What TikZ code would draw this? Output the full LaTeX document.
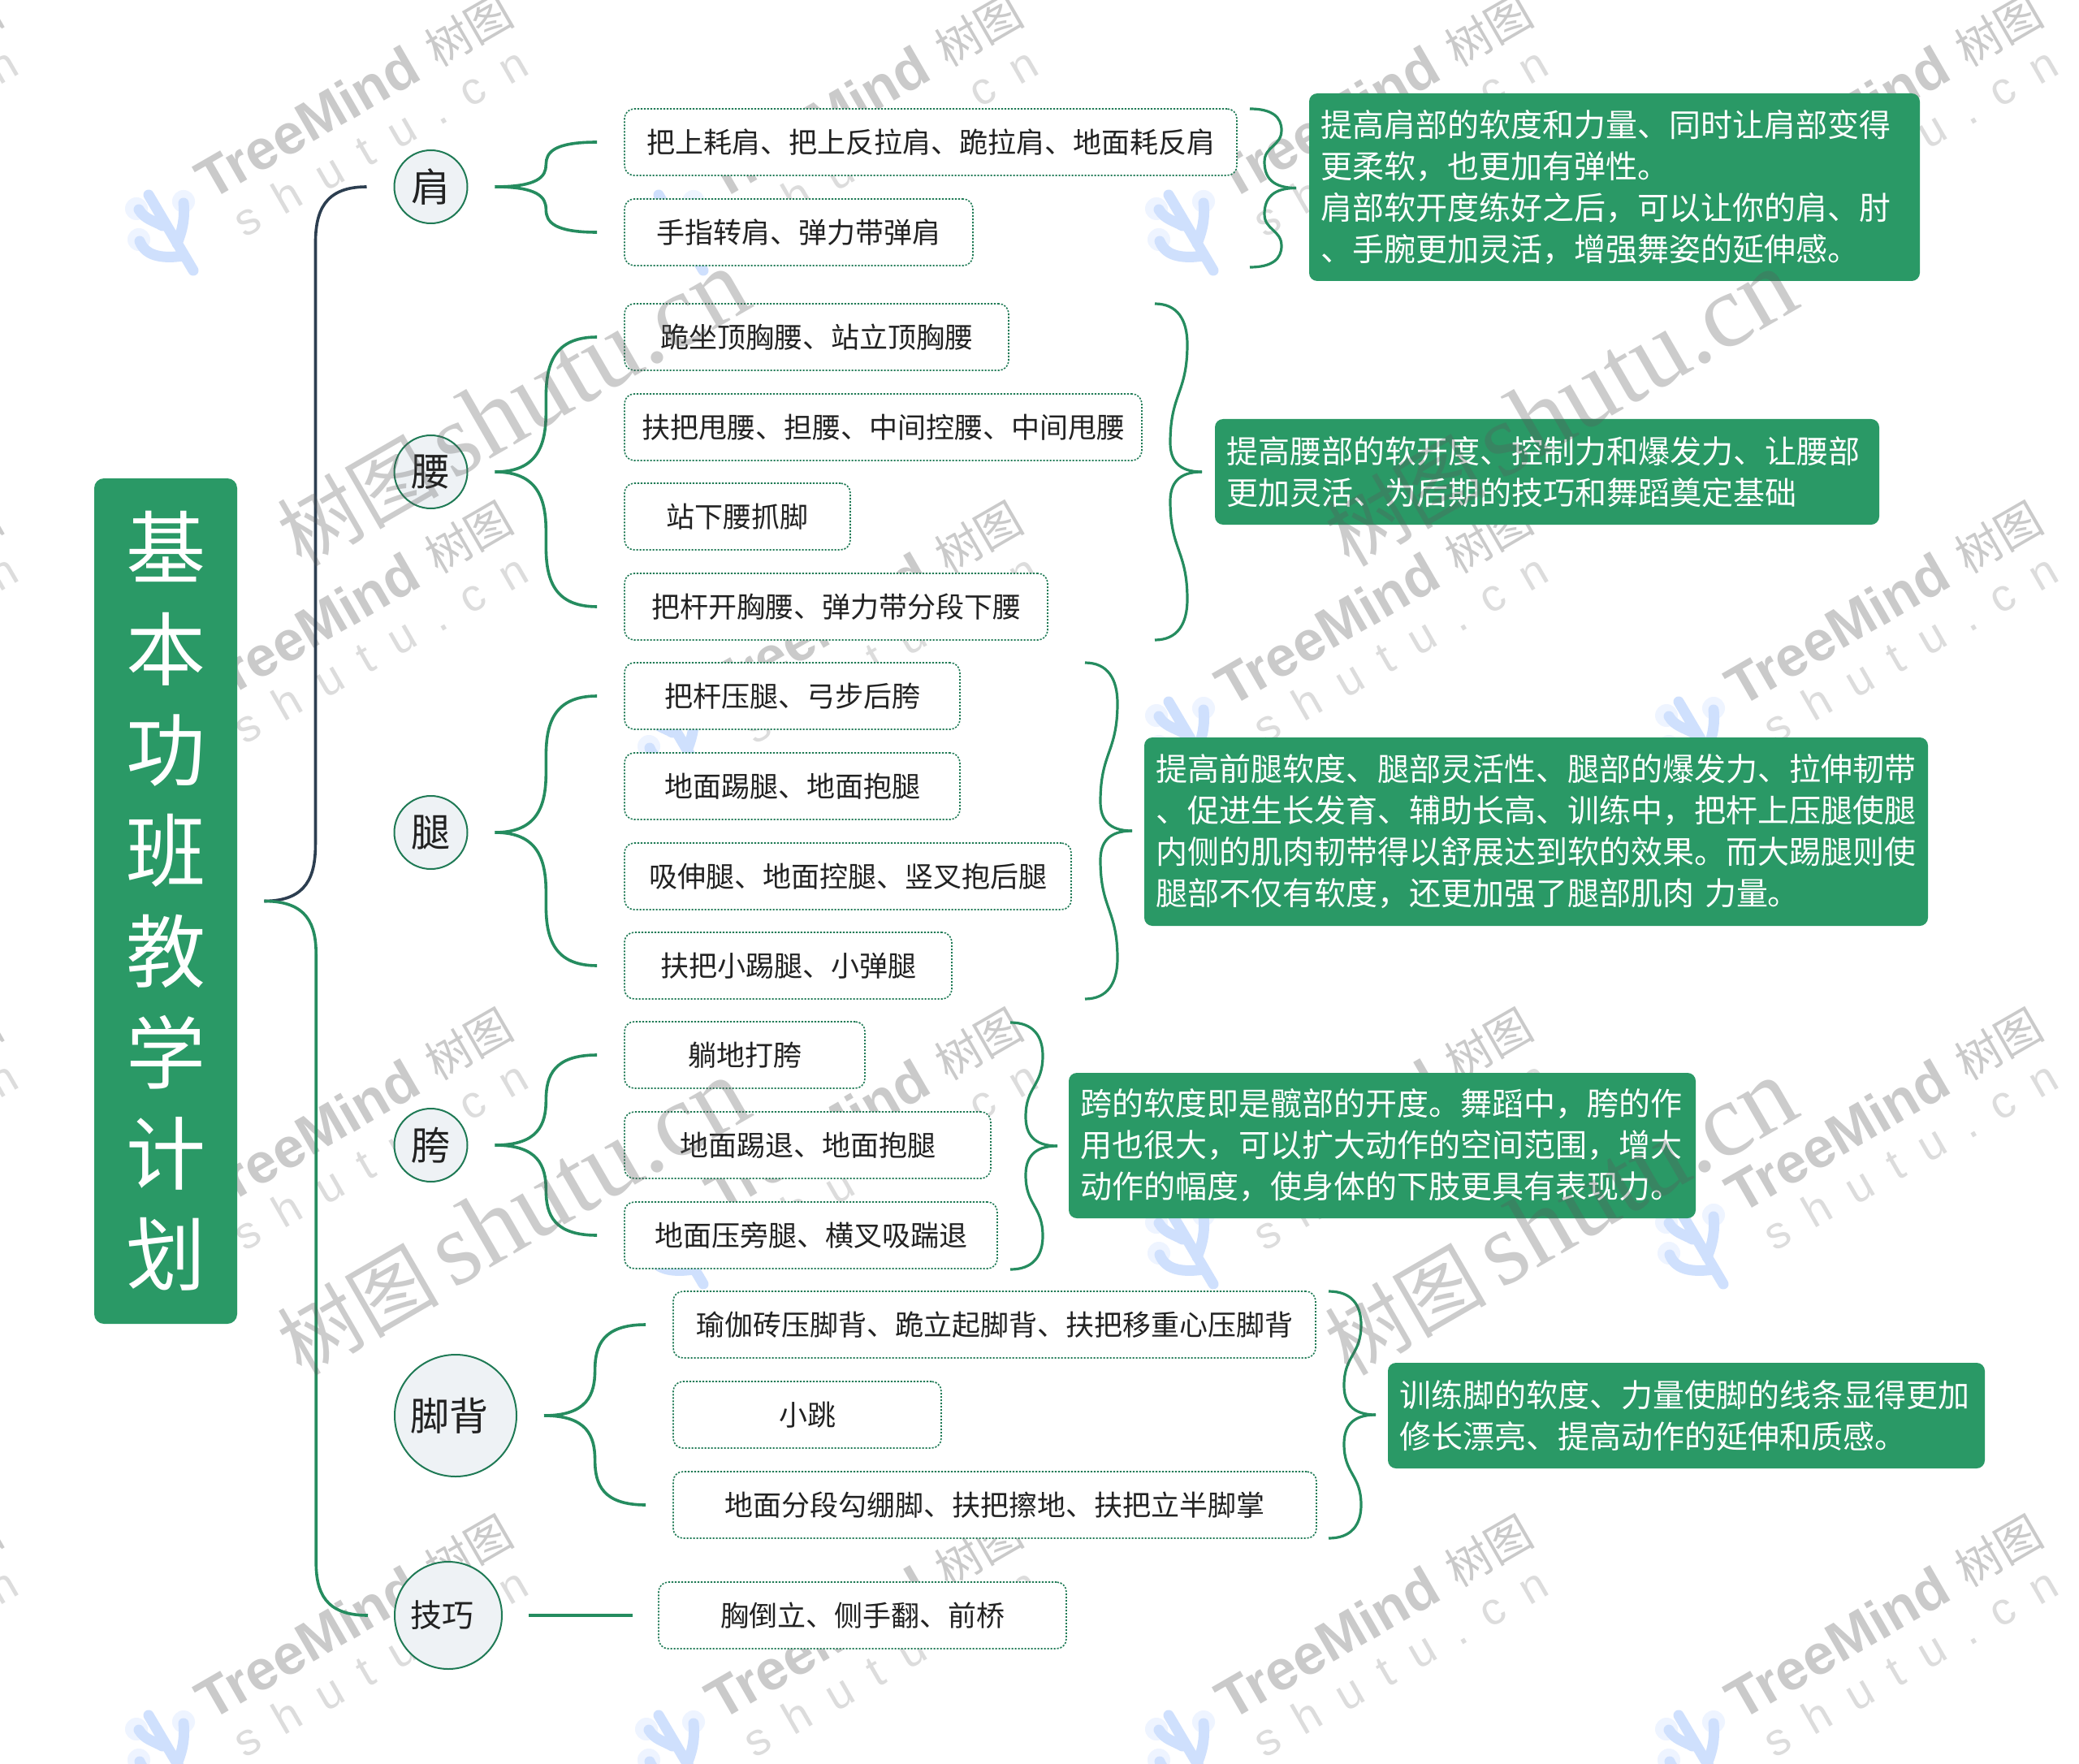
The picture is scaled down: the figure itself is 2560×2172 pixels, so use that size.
\documentclass[tikz,border=0pt]{standalone}
\usepackage{fontspec}
\usetikzlibrary{calc,shapes.geometric}
\setmainfont{Noto Sans CJK SC}
\newfontfamily\wmlatin{Liberation Sans}
\newfontfamily\wmspaced[LetterSpace=50]{Liberation Sans}
\newfontfamily\wmserif{Liberation Serif}
\definecolor{mmgreen}{HTML}{2A9966}
\definecolor{mmline}{HTML}{258C5F}
\definecolor{mmdots}{HTML}{1F7A55}
\definecolor{mmdark}{HTML}{2C3E50}
\definecolor{mmcircle}{HTML}{EEF2F5}
\definecolor{mmtext}{HTML}{222222}
\definecolor{wmmain}{HTML}{CACACA}
\definecolor{wmsoft}{HTML}{DCDCDC}
\definecolor{wmblue}{HTML}{CFE0FD}
\definecolor{wmhalo}{HTML}{EEF4FF}
\definecolor{wmover}{gray}{.35}
\tikzset{
  rootbox/.style={fill=mmgreen,rounded corners=6pt,inner sep=0pt,text=white,align=center,
    font=\fontsize{49}{62.15}\selectfont},
  branch/.style={circle,draw=mmdots,line width=1pt,fill=mmcircle,inner sep=0pt,text=mmtext,
    font=\fontsize{24}{28}\selectfont},
  leaf/.style={draw=mmdots,line width=.8pt,dash pattern=on 1.1pt off .9pt,fill=white,rounded corners=6pt,
    inner sep=0pt,minimum height=41pt,text=mmtext,font=\fontsize{17.5}{22}\selectfont},
  notebox/.style={fill=mmgreen,rounded corners=5pt,inner xsep=7pt,inner ysep=0pt,text=white,align=left,
    font=\fontsize{19.5}{25.5}\selectfont},
  link/.style={draw=mmline,line width=1.8pt},
  darklink/.style={draw=mmdark,line width=1.8pt},
  bracket/.style={draw=mmline,line width=1.6pt},
  curly/.style={to path={let \p1=(\tikztostart),\p2=(\tikztotarget),\n1={(\x1+\x2)/2},
      \n2={max(-#1,min(#1,(\y2-\y1)/2))} in
      (\p1) .. controls ({\n1-5pt},\y1) and (\n1,{\y1+0.45*\n2}) .. (\n1,{\y1+\n2})
      -- (\n1,{\y2-\n2})
      .. controls (\n1,{\y2-0.45*\n2}) and ({\n1+5pt},\y2) .. (\p2)}},
  curly/.default=37,
  halfbrace/.style={to path={let \p1=(\tikztostart),\p2=(\tikztotarget),
      \n1={\x2-9pt},\n2={\x2-19.5pt},
      \n3={max(-25,min(25,0.27*(\y2-\y1)))},\n4={max(-18,min(18,0.33*(\y2-\y1)))},
      \n5={(\y2-\y1-\n3-\n4)/2} in
      (\p1) .. controls ({\x1+14pt},\y1) and (\n1,{\y1+0.4*\n3}) .. (\n1,{\y1+\n3})
      .. controls (\n1,{\y1+\n3+\n5}) and (\n2,{\y2-\n4-\n5}) .. (\n2,{\y2-\n4})
      .. controls (\n2,{\y2-0.4*\n4}) and ({\n2+5pt},\y2) .. (\p2)}}
}
\newcommand{\leafnode}[5]{\node[leaf,minimum width={(#3-#2)*0.5pt}] (#1) at ({(#2+#3)/2},#4) {#5};}
\newcommand{\notenode}[6]{\node[notebox,minimum width={(#3-#2)*0.5pt},minimum height={(#5-#4)*0.5pt},
   text width={(#3-#2)*0.5pt-14pt}] (#1) at ({(#2+#3)/2},{(#4+#5)/2}) {#6};}
\newcommand{\linkup}[2]{%
  \coordinate (#1-out-#2) at ([xshift=16.5pt]#1.east);
  \coordinate (#1-in-#2) at ([xshift=-16.5pt]#2.west);
  \draw[link] (#1-out-#2) to[curly] (#1-in-#2);}
\newcommand{\bracegroup}[5]{% name, x start, y top, y bottom, tip x
  \coordinate (#1-top) at (#2,#3);
  \coordinate (#1-bot) at (#2,#4);
  \coordinate (#1-tip) at (#5,{(#3+#4)/2});
  \draw[bracket] (#1-top) to[halfbrace] (#1-tip);
  \draw[bracket] (#1-bot) to[halfbrace] (#1-tip);}
\begin{document}
\begin{tikzpicture}[x=0.5pt,y=-0.5pt]
\useasboundingbox (0,0) rectangle (2560,2172);
\clip (0,0) rectangle (2560,2172);
\fill[white] (0,0) rectangle (2560,2172);
% tiled watermark, behind the map
\foreach \dx in {-628,0,628,1256,1884} {
 \foreach \dy in {0,624,1248,1872} {
  \begin{scope}[shift={(\dx,\dy)}]
   \fill[wmhalo] (168,257) circle (14) (226,248) circle (14) (171,295) circle (14);
   \draw[wmblue,line width=6.5pt,line cap=round,line join=round]
     (183,240) -- (238,333)
     (171,258) .. controls (178,270) and (190,272) .. (200,278)
     (226,250) .. controls (228,270) and (224,285) .. (218,300)
     (172,297) .. controls (180,318) and (205,318) .. (226,315);
   \node[rotate=30,anchor=base west,inner sep=0pt,text=wmmain,font=\wmlatin\bfseries\fontsize{34.5}{36}\selectfont] (wma\dx\dy) at (259,248) {TreeMind};
   \node[rotate=30,inner sep=0pt,text=wmmain,font=\fontsize{28}{29}\selectfont] (wmb\dx\dy) at (577,37) {树图};
   \node[rotate=30,anchor=base west,inner sep=0pt,text=wmsoft,font=\wmspaced\fontsize{28}{28}\selectfont] (wmc\dx\dy) at (301,294) {shutu.cn};
  \end{scope}
 }
}
% nodes
\node[rootbox,minimum width=88pt,minimum height=520.5pt] (root) at (204,1109.5) {基\\本\\功\\班\\教\\学\\计\\划};
\node[branch,minimum size=45pt] (sh) at (530.5,230) {肩};
\node[branch,minimum size=45pt] (ya) at (530.5,581) {腰};
\node[branch,minimum size=45pt] (tu) at (530.5,1025) {腿};
\node[branch,minimum size=45pt] (ku) at (530.5,1410) {胯};
\node[branch,minimum size=75pt] (jb) at (561,1743) {脚背\kern8pt};
\node[branch,minimum size=66pt,font=\fontsize{19.5}{24}\selectfont] (jq) at (552,1989) {技巧\kern8pt};
\leafnode{l1}{769}{1523}{175}{把上耗肩、把上反拉肩、跪拉肩、地面耗反肩}
\leafnode{l2}{769}{1198}{286}{手指转肩、弹力带弹肩}
\leafnode{l3}{769}{1242}{415}{跪坐顶胸腰、站立顶胸腰}
\leafnode{l4}{769}{1406}{526}{扶把甩腰、担腰、中间控腰、中间甩腰}
\leafnode{l5}{769}{1047}{636}{站下腰抓脚}
\leafnode{l6}{769}{1290}{747}{把杆开胸腰、弹力带分段下腰}
\leafnode{l7}{769}{1182}{857}{把杆压腿、弓步后胯}
\leafnode{l8}{769}{1182}{968}{地面踢腿、地面抱腿}
\leafnode{l9}{769}{1319}{1079}{吸伸腿、地面控腿、竖叉抱后腿}
\leafnode{l10}{769}{1172}{1189}{扶把小踢腿、小弹腿}
\leafnode{l11}{769}{1065}{1299}{躺地打胯}
\leafnode{l12}{769}{1220}{1410}{地面踢退、地面抱腿}
\leafnode{l13}{769}{1228}{1521}{地面压旁腿、横叉吸踹退}
\leafnode{l14}{829}{1620}{1631}{瑜伽砖压脚背、跪立起脚背、扶把移重心压脚背}
\leafnode{l15}{829}{1159}{1742}{小跳}
\leafnode{l16}{829}{1621}{1853}{地面分段勾绷脚、扶把擦地、扶把立半脚掌}
\leafnode{l17}{811}{1313}{1989}{胸倒立、侧手翻、前桥}
\notenode{n1}{1612}{2364}{115}{346}{提高肩部的软度和力量、同时让肩部变得\\更柔软，也更加有弹性。\\肩部软开度练好之后，可以让你的肩、肘\\、手腕更加灵活，增强舞姿的延伸感。}
\notenode{n2}{1496}{2314}{516}{646}{提高腰部的软开度、控制力和爆发力、让腰部\\更加灵活、为后期的技巧和舞蹈奠定基础}
\notenode{n3}{1409}{2374}{908}{1140}{提高前腿软度、腿部灵活性、腿部的爆发力、拉伸韧带\\、促进生长发育、辅助长高、训练中，把杆上压腿使腿\\内侧的肌肉韧带得以舒展达到软的效果。而大踢腿则使\\腿部不仅有软度，还更加强了腿部肌肉 力量。}
\notenode{n4}{1316}{2088}{1321}{1500}{跨的软度即是髋部的开度。舞蹈中，胯的作\\用也很大，可以扩大动作的空间范围，增大\\动作的幅度，使身体的下肢更具有表现力。}
\notenode{n5}{1709}{2444}{1678}{1808}{训练脚的软度、力量使脚的线条显得更加\\修长漂亮、提高动作的延伸和质感。}
% spine
\coordinate (root-out) at ([xshift=16.5pt]root.east);
\coordinate (sh-in) at ([xshift=-16.5pt]sh.west);
\coordinate (jq-in) at ([xshift=-16pt]jq.west);
\draw[darklink] (root-out) to[curly=35] (sh-in);
\draw[link] (root-out) to[curly=33] (jq-in);
% branch links
\linkup{sh}{l1}\linkup{sh}{l2}
\linkup{ya}{l3}\linkup{ya}{l6}
\linkup{tu}{l7}\linkup{tu}{l10}
\linkup{ku}{l11}\linkup{ku}{l13}
\linkup{jb}{l14}\linkup{jb}{l16}
\coordinate (jq-out) at ([xshift=16pt]jq.east);
\coordinate (l17-in) at ([xshift=-15.5pt]l17.west);
\draw[link] (jq-out) -- (l17-in);
% summary braces
\bracegroup{b1}{1539}{134}{329}{1596}
\bracegroup{b2}{1422}{374}{788}{1480}
\bracegroup{b3}{1336}{816}{1230}{1394}
\bracegroup{b4}{1244}{1259}{1563}{1302}
\bracegroup{b5}{1636}{1590}{1894}{1694}
% large watermark, over the map
\foreach \wx in {0,1290} {
 \foreach \wy in {0,996} {
  \node[rotate=30,anchor=base west,inner sep=0pt,text=wmover,text opacity=.3,font=\fontsize{50}{52}\selectfont] (wmd\wx\wy) at ({371+\wx},{700+\wy}) {树图\kern8pt{\wmserif\fontsize{64}{64}\selectfont shutu.cn}};
 }
}
\end{tikzpicture}
\end{document}
